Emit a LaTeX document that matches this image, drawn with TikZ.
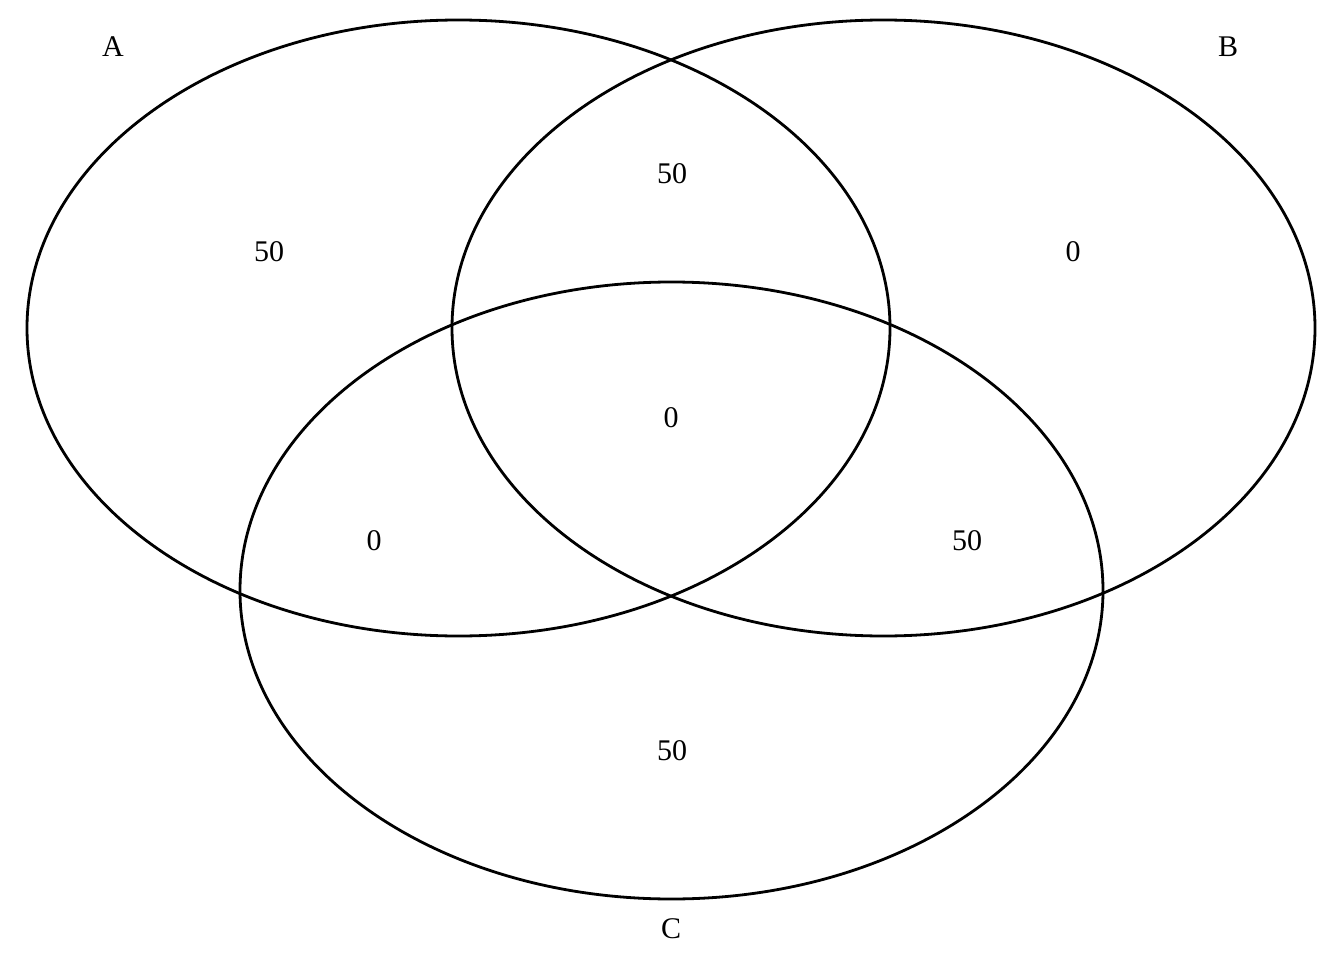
\documentclass[tikz,border=0pt]{standalone}
\usepackage{fontspec}
\setmainfont{Liberation Serif}
\begin{document}
\begin{tikzpicture}[x=1pt,y=-1pt,
  set/.style={draw=black,line width=2.8pt},
  lbl/.style={font=\fontsize{30}{30}\selectfont,inner sep=0pt,anchor=center}]
\useasboundingbox (0,0) rectangle (1344,960);
\draw[set] (458.5,328) ellipse [x radius=431.5, y radius=308];
\draw[set] (883.5,328) ellipse [x radius=431.5, y radius=308];
\draw[set] (671.5,590.5) ellipse [x radius=431.5, y radius=308.5];
\node[lbl] (la) at (113,47) {A};
\node[lbl] (lb) at (1228,47) {B};
\node[lbl] (lc) at (671,929) {C};
\node[lbl] (na) at (269,252) {50};
\node[lbl] (nab) at (672,174) {50};
\node[lbl] (nb) at (1073,252) {0};
\node[lbl] (nabc) at (671,418) {0};
\node[lbl] (nac) at (374,541) {0};
\node[lbl] (nbc) at (967,541) {50};
\node[lbl] (nc) at (672,751) {50};
\end{tikzpicture}
\end{document}
